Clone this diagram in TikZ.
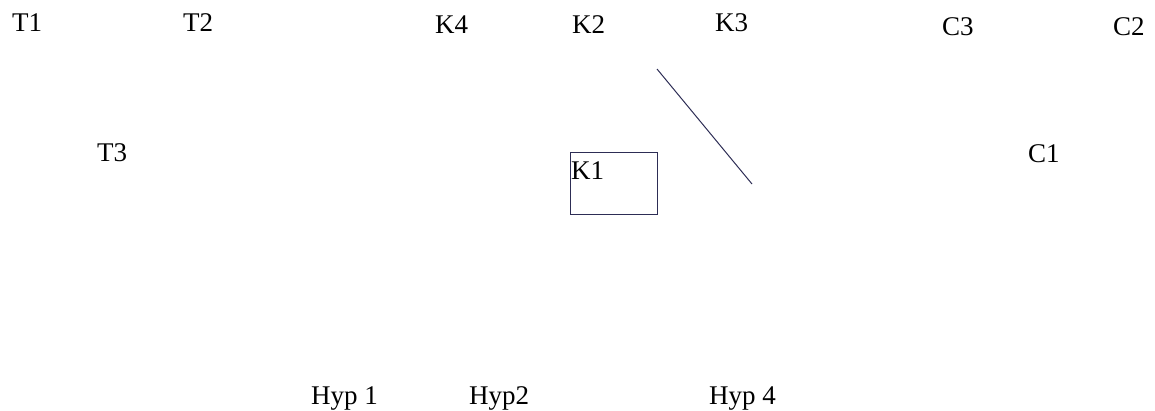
\documentclass[tikz,border=0pt]{standalone}
\usepackage{fontspec}
\setmainfont{Liberation Serif}
\definecolor{navy}{RGB}{45,45,85}
\begin{document}
\begin{tikzpicture}[x=1pt,y=-1pt,
  lbl/.style={anchor=base west, inner sep=0pt, font=\fontsize{27}{31}\selectfont},
  boxstyle/.style={draw=navy, line width=1pt, anchor=north west, inner sep=0pt, minimum width=87pt, minimum height=62pt},
  connector/.style={draw=navy, line width=1pt}]
\useasboundingbox (0,0) rectangle (1155,411);
\node[lbl] (T1) at (12,32) {T1};
\node[lbl] (T2) at (183,32) {T2};
\node[lbl] (K4) at (435,34) {K4};
\node[lbl] (K2) at (572,34) {K2};
\node[lbl] (K3) at (715,32) {K3};
\node[lbl] (C3) at (942,36) {C3};
\node[lbl] (C2) at (1113,36) {C2};
\node[lbl] (T3) at (97,162) {T3};
\node[lbl] (C1) at (1028,163) {C1};
\node[boxstyle] (K1box) at (570,152) {};
\node[lbl] (K1) at (571,180) {K1};
\coordinate (L1) at (657,69);
\coordinate (L2) at (752,184);
\draw[connector] (L1) -- (L2);
\node[lbl] (H1) at (311,404) {Hyp 1};
\node[lbl] (H2) at (469,404) {Hyp2};
\node[lbl] (H4) at (709,404) {Hyp 4};
\end{tikzpicture}
\end{document}
